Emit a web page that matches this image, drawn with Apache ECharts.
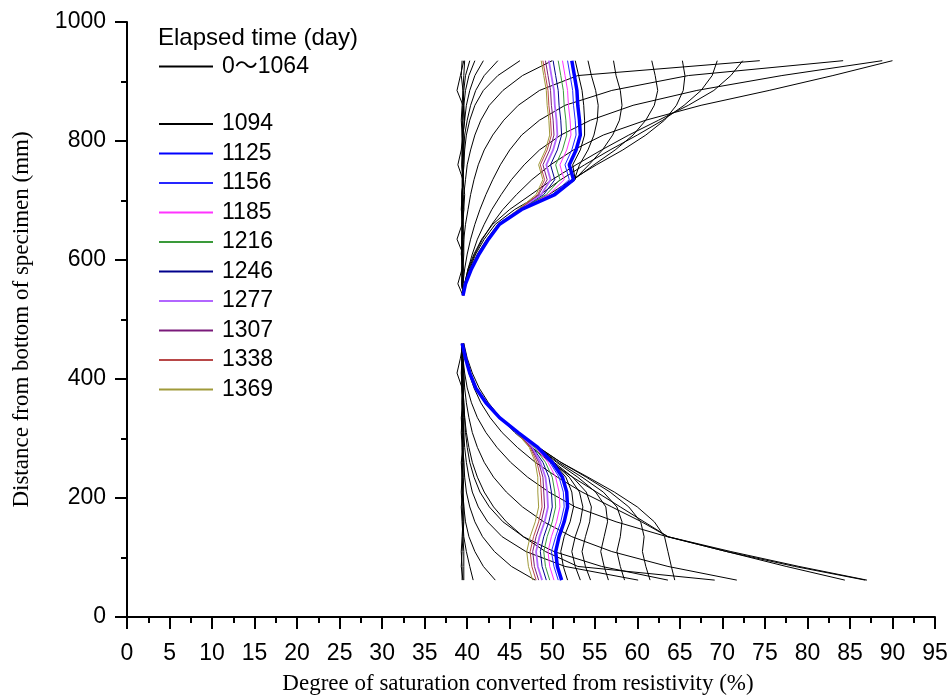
<!DOCTYPE html>
<html><head><meta charset="utf-8">
<script src="https://cdn.jsdelivr.net/npm/echarts@6.0.0/dist/echarts.min.js"></script>
<style>html,body{margin:0;padding:0;background:#fff}#c{width:952px;height:700px}</style>
</head><body><div id="c"></div>
<script>
// Depths (mm): upper section (17 points) then lower section (17 points)
const depthsMm = [935, 910, 885, 860, 835, 810, 785, 760, 735, 710, 685, 660, 635, 610, 585, 560, 540,
                  460, 435, 410, 385, 360, 335, 310, 285, 260, 235, 210, 185, 160, 135, 110, 85, 62];

// Degree of saturation (%) — black profiles, elapsed 0～1064 days
const d0a = [39.4, 39.3, 39.5, 39.4, 39.3, 39.4, 39.5, 39.4, 39.5, 39.4, 39.3, 39.5, 39.4, 39.3, 39.5, 39.4, 39.5,
             39.5, 39.4, 39.3, 39.4, 39.5, 39.4, 39.3, 39.4, 39.5, 39.4, 39.3, 39.4, 39.5, 39.4, 39.3, 39.4, 39.4];
const d0b = [39.6, 39.2, 38.8, 39.5, 39.4, 39.5, 39.3, 38.9, 39.5, 39.4, 39.6, 39.4, 38.8, 39.5, 39.4, 38.9, 39.5,
             39.5, 39.2, 38.8, 39.4, 39.5, 39.3, 39.4, 39.5, 39.3, 39.4, 39.5, 39.3, 39.4, 39.5, 39.4, 39.3, 39.5];
const d0c = [39.7, 39.6, 39.5, 39.6, 39.7, 39.5, 39.6, 39.6, 39.5, 39.7, 39.6, 39.5, 39.6, 39.6, 39.5, 39.6, 39.5,
             39.6, 39.5, 39.6, 39.6, 39.5, 39.6, 39.6, 39.5, 39.6, 39.6, 39.5, 39.6, 39.6, 39.5, 39.6, 39.6, 39.6];
const w01 = [40.3, 39.8, 39.6, 39.5, 39.5, 39.4, 39.4, 39.4, 39.5, 39.4, 39.4, 39.5, 39.4, 39.4, 39.5, 39.4, 39.5,
             39.4, 39.4, 39.4, 39.5, 39.4, 39.4, 39.4, 39.5, 39.4, 39.4, 39.4, 39.5, 39.5, 39.6, 39.9, 40.3, 40.7];
const w02 = [40.9, 40.2, 39.8, 39.6, 39.5, 39.5, 39.4, 39.4, 39.5, 39.4, 39.4, 39.4, 39.4, 39.4, 39.5, 39.4, 39.5,
             39.4, 39.4, 39.4, 39.4, 39.4, 39.4, 39.5, 39.4, 39.4, 39.5, 39.5, 39.6, 39.8, 40.2, 40.9, 41.9, 43.3];
const w03 = [41.9, 40.9, 40.3, 39.9, 39.7, 39.5, 39.5, 39.4, 39.4, 39.4, 39.4, 39.4, 39.4, 39.4, 39.4, 39.4, 39.5,
             39.4, 39.4, 39.4, 39.4, 39.4, 39.5, 39.5, 39.5, 39.6, 39.7, 39.9, 40.3, 40.9, 41.8, 43.2, 45.2, 48.0];
const w04 = [43.6, 42.0, 41.0, 40.4, 40.0, 39.7, 39.6, 39.5, 39.5, 39.4, 39.4, 39.4, 39.4, 39.4, 39.4, 39.4, 39.5,
             39.4, 39.4, 39.4, 39.4, 39.5, 39.5, 39.6, 39.7, 39.9, 40.2, 40.6, 41.3, 42.4, 44.1, 46.9, 51.5, 60.1];
const w05 = [46.2, 43.6, 41.9, 40.9, 40.3, 39.9, 39.7, 39.6, 39.5, 39.5, 39.4, 39.4, 39.4, 39.4, 39.4, 39.4, 39.5,
             39.4, 39.4, 39.5, 39.5, 39.6, 39.7, 39.8, 40.0, 40.3, 40.8, 41.5, 42.6, 44.2, 46.6, 50.2, 55.8, 63.6];
const w06 = [50.0, 46.5, 44.2, 42.6, 41.6, 40.9, 40.4, 40.0, 39.8, 39.6, 39.5, 39.5, 39.4, 39.4, 39.4, 39.4, 39.5,
             39.4, 39.4, 39.5, 39.5, 39.6, 39.7, 39.9, 40.2, 40.6, 41.2, 42.0, 43.1, 44.6, 46.6, 49.2, 53.0, 69.1];
const w07 = [74.4, 53.0, 48.5, 46.0, 44.3, 43.0, 42.0, 41.3, 40.8, 40.4, 40.1, 39.8, 39.6, 39.5, 39.5, 39.4, 39.5,
             39.4, 39.5, 39.6, 39.7, 39.9, 40.2, 40.6, 41.2, 42.0, 43.1, 44.6, 46.5, 49.0, 52.3, 57.0, 63.6, 71.7];
const w08 = [84.2, 66.0, 57.0, 51.5, 48.5, 46.4, 45.0, 43.9, 43.0, 42.2, 41.5, 40.9, 40.4, 40.0, 39.7, 39.5, 39.5,
             39.4, 39.5, 39.7, 40.0, 40.5, 41.2, 42.2, 43.5, 45.1, 47.1, 49.6, 52.7, 57.5, 63.5, 70.5, 77.5, 84.4];
const w09 = [88.8, 77.0, 67.0, 59.5, 54.5, 51.0, 48.5, 46.7, 45.2, 44.0, 42.9, 42.0, 41.2, 40.6, 40.1, 39.7, 39.5,
             39.5, 39.8, 40.2, 40.8, 41.6, 42.7, 44.1, 45.9, 48.0, 50.6, 53.5, 57.0, 60.5, 63.6, 71.0, 79.0, 87.0];
const w10 = [90.0, 83.0, 75.5, 67.5, 61.0, 56.0, 52.5, 49.8, 47.6, 45.8, 44.2, 42.9, 41.8, 40.9, 40.2, 39.7, 39.5,
             39.6, 40.0, 40.6, 41.4, 42.5, 43.9, 45.6, 47.6, 49.8, 52.4, 55.2, 58.0, 60.8, 63.6, 70.5, 78.5, 86.8];
const r01 = [72.4, 71.0, 69.0, 66.0, 62.5, 59.0, 55.8, 52.8, 50.0, 47.5, 45.0, 43.0, 41.7, 40.8, 40.1, 39.7, 39.5,
             39.5, 39.9, 40.4, 41.1, 42.3, 43.9, 46.0, 48.4, 51.0, 54.2, 57.3, 60.0, 62.0, 63.2, 63.6, 64.0, 64.4];
const r02 = [69.4, 68.8, 67.5, 65.5, 63.0, 60.0, 56.8, 53.8, 51.0, 48.6, 45.6, 43.3, 42.0, 41.0, 40.3, 39.8, 39.5,
             39.5, 39.9, 40.3, 41.0, 42.2, 43.8, 46.0, 48.4, 51.0, 54.0, 56.8, 59.0, 60.4, 60.8, 60.6, 61.0, 61.5];
const r03 = [65.3, 65.6, 65.4, 64.6, 63.2, 61.0, 58.3, 55.2, 52.3, 49.6, 46.1, 43.6, 42.3, 41.2, 40.4, 39.8, 39.5,
             39.4, 39.8, 40.3, 41.0, 42.2, 43.8, 46.0, 48.3, 50.7, 53.5, 56.0, 57.6, 58.2, 58.0, 57.6, 58.0, 58.5];
const r04 = [61.7, 62.1, 62.4, 62.0, 61.0, 59.5, 57.4, 54.9, 52.5, 50.2, 46.3, 43.8, 42.5, 41.4, 40.5, 39.8, 39.5,
             39.4, 39.8, 40.3, 41.0, 42.2, 43.8, 46.0, 48.3, 50.5, 53.0, 55.1, 56.3, 56.5, 56.1, 55.7, 56.1, 56.6];
const r05 = [57.2, 57.5, 58.0, 58.2, 57.9, 57.1, 55.9, 54.3, 52.6, 50.3, 46.5, 43.8, 42.5, 41.4, 40.5, 39.8, 39.5,
             39.4, 39.8, 40.3, 41.0, 42.2, 43.8, 46.0, 48.3, 50.2, 52.4, 54.0, 54.6, 54.4, 53.9, 53.5, 53.9, 54.5];
const r06 = [54.2, 54.6, 55.1, 55.4, 55.3, 54.9, 54.2, 53.2, 52.6, 50.3, 46.5, 43.8, 42.5, 41.4, 40.5, 39.8, 39.5,
             39.4, 39.8, 40.3, 41.0, 42.2, 43.8, 46.0, 48.3, 50.1, 52.0, 53.2, 53.6, 53.3, 52.7, 52.3, 52.7, 53.3];

// Later profiles
const day1094 = [52.7, 53.1, 53.5, 53.7, 53.8, 53.8, 53.3, 52.4, 52.7, 50.4, 46.4, 43.8, 42.5, 41.4, 40.5, 39.8, 39.5,
                 39.4, 39.8, 40.3, 41.0, 42.2, 43.8, 46.0, 48.3, 50.1, 51.6, 52.3, 52.5, 52.1, 51.4, 51.0, 51.3, 51.8];
const day1125 = [52.3, 52.6, 52.9, 53.0, 53.2, 53.3, 52.8, 52.0, 52.5, 50.3, 46.4, 43.8, 42.5, 41.4, 40.5, 39.8, 39.5,
                 39.4, 39.8, 40.3, 41.0, 42.2, 43.8, 46.0, 48.3, 50.0, 51.2, 51.7, 51.8, 51.4, 50.8, 50.4, 50.6, 51.1];
const day1156 = [51.8, 52.1, 52.4, 52.5, 52.7, 52.8, 52.3, 51.5, 52.0, 50.0, 46.4, 43.8, 42.5, 41.4, 40.5, 39.8, 39.5,
                 39.4, 39.8, 40.3, 41.0, 42.2, 43.8, 46.0, 48.2, 49.7, 50.8, 51.3, 51.4, 51.0, 50.4, 49.9, 50.2, 50.7];
const day1185 = [51.2, 51.5, 51.8, 51.9, 52.1, 52.2, 51.7, 50.9, 51.4, 49.6, 46.3, 43.8, 42.5, 41.4, 40.5, 39.8, 39.5,
                 39.4, 39.8, 40.3, 41.0, 42.2, 43.8, 46.0, 48.0, 49.5, 50.4, 50.8, 50.9, 50.5, 49.9, 49.5, 49.7, 50.2];
const day1216 = [50.7, 51.0, 51.3, 51.4, 51.6, 51.7, 51.2, 50.4, 50.9, 49.3, 46.2, 43.8, 42.5, 41.4, 40.5, 39.8, 39.5,
                 39.4, 39.8, 40.3, 41.0, 42.2, 43.8, 45.9, 47.9, 49.2, 50.0, 50.3, 50.4, 50.0, 49.4, 49.0, 49.2, 49.7];
const day1246 = [50.1, 50.4, 50.7, 50.8, 51.0, 51.1, 50.6, 49.8, 50.3, 49.0, 46.2, 43.8, 42.5, 41.4, 40.5, 39.8, 39.5,
                 39.4, 39.8, 40.3, 41.0, 42.2, 43.8, 45.9, 47.7, 48.9, 49.6, 49.9, 50.0, 49.6, 49.0, 48.6, 48.8, 49.3];
const day1277 = [49.6, 49.9, 50.2, 50.3, 50.5, 50.6, 50.1, 49.3, 49.8, 48.7, 46.1, 43.8, 42.5, 41.4, 40.5, 39.8, 39.5,
                 39.4, 39.8, 40.3, 41.0, 42.2, 43.8, 45.9, 47.6, 48.6, 49.2, 49.4, 49.5, 49.1, 48.5, 48.1, 48.3, 48.8];
const day1307 = [49.2, 49.5, 49.8, 49.9, 50.1, 50.2, 49.7, 48.9, 49.4, 48.4, 46.1, 43.8, 42.5, 41.4, 40.5, 39.8, 39.5,
                 39.4, 39.8, 40.3, 41.0, 42.2, 43.8, 45.9, 47.5, 48.4, 48.9, 49.0, 49.1, 48.7, 48.1, 47.7, 47.9, 48.4];
const day1338 = [48.9, 49.2, 49.5, 49.6, 49.8, 49.9, 49.4, 48.6, 49.1, 48.3, 46.1, 43.8, 42.5, 41.4, 40.5, 39.8, 39.5,
                 39.4, 39.8, 40.3, 41.0, 42.2, 43.8, 45.9, 47.4, 48.2, 48.6, 48.7, 48.8, 48.4, 47.8, 47.4, 47.6, 48.1];
const day1369 = [48.7, 49.0, 49.3, 49.4, 49.6, 49.7, 49.2, 48.4, 48.9, 48.1, 46.0, 43.8, 42.5, 41.4, 40.5, 39.8, 39.5,
                 39.4, 39.8, 40.3, 41.0, 42.2, 43.8, 45.8, 47.3, 48.0, 48.3, 48.3, 48.4, 48.0, 47.4, 47.0, 47.2, 47.7];

const earlyLabel = '0～1064';
const earlyProfiles = [d0a, d0b, d0c, w01, w02, w03, w04, w05, w06, w07, w08, w09, w10, r01, r02, r03, r04, r05, r06];
const laterLabels = ['1094', '1125', '1156', '1185', '1216', '1246', '1277', '1307', '1338', '1369'];
const laterProfiles = [day1094, day1125, day1156, day1185, day1216, day1246, day1277, day1307, day1338, day1369];
const laterColors = ['#000000', '#0000ff', '#2626ff', '#ff33ff', '#3a9a3a', '#00008c', '#b266ff', '#7a1a7a', '#b84848', '#a09a3a'];
const laterWidths = [1, 3.5, 1, 1, 1, 1, 1.8, 1, 1, 1];

const SANS = "'Liberation Sans', Arial, 'Noto Sans CJK JP', sans-serif";
const SERIF = "'Liberation Serif', 'Times New Roman', serif";

function toData(vals) {
  const out = [];
  for (let i = 0; i < 17; i++) out.push([vals[i], depthsMm[i]]);
  out.push(['-', '-']);
  for (let i = 17; i < 34; i++) out.push([vals[i], depthsMm[i]]);
  return out;
}
function mk(name, vals, color, width, z) {
  return {
    type: 'line', name: name, data: toData(vals), connectNulls: false,
    showSymbol: false, symbol: 'none', smooth: false, silent: true, animation: false,
    lineStyle: { color: color, width: width }, itemStyle: { color: color }, z: z
  };
}
const series = [];
earlyProfiles.forEach(p => series.push(mk(earlyLabel, p, '#000000', 1, 2)));
laterProfiles.forEach((p, i) => series.push(mk(laterLabels[i], p, laterColors[i], laterWidths[i], i === 1 ? 5 : 3)));

const chart = echarts.init(document.getElementById('c'), null, { renderer: 'canvas' });
const axisLineStyle = { color: '#000', width: 2 };
const legendCommon = {
  orient: 'vertical', left: 158, padding: 0, itemWidth: 54, itemHeight: 14, selectedMode: false,
  itemStyle: { opacity: 0 },
  textStyle: { fontFamily: SANS, fontSize: 23, color: '#000', padding: [0, 0, 0, 4] }
};
chart.setOption({
  animation: false,
  backgroundColor: '#fff',
  title: {
    text: 'Elapsed time (day)', left: 158, top: 26, padding: 0,
    textStyle: { fontFamily: SANS, fontSize: 24, fontWeight: 'normal', color: '#000' }
  },
  legend: [
    Object.assign({}, legendCommon, { data: [earlyLabel], top: 55 }),
    Object.assign({}, legendCommon, { data: laterLabels, top: 112.5, itemGap: 6.5 })
  ],
  grid: { left: 127, right: 17, top: 22, bottom: 80, containLabel: false },
  xAxis: {
    type: 'value', min: 0, max: 95, interval: 5,
    name: 'Degree of saturation converted from resistivity (%)',
    nameLocation: 'middle', nameGap: 55,
    nameTextStyle: { fontFamily: SERIF, fontSize: 23, color: '#000', padding: [0, 26, 0, 0] },
    axisLine: { show: true, onZero: false, lineStyle: axisLineStyle },
    axisTick: { show: true, inside: false, length: 12, lineStyle: axisLineStyle },
    minorTick: { show: true, splitNumber: 2, length: 6, lineStyle: axisLineStyle },
    splitLine: { show: false }, minorSplitLine: { show: false },
    axisLabel: { fontFamily: SANS, fontSize: 23, color: '#000', margin: 25, formatter: v => String(v) }
  },
  yAxis: {
    type: 'value', min: 0, max: 1000, interval: 200,
    name: 'Distance from bottom of specimen (mm)',
    nameLocation: 'middle', nameGap: 94,
    nameTextStyle: { fontFamily: SERIF, fontSize: 23, color: '#000' },
    axisLine: { show: true, onZero: false, lineStyle: axisLineStyle },
    axisTick: { show: true, inside: false, length: 12, lineStyle: axisLineStyle },
    minorTick: { show: true, splitNumber: 2, length: 6, lineStyle: axisLineStyle },
    splitLine: { show: false }, minorSplitLine: { show: false },
    axisLabel: { fontFamily: SANS, fontSize: 23, color: '#000', margin: 21, formatter: v => String(v) }
  },
  series: series
});
</script>
</body></html>
